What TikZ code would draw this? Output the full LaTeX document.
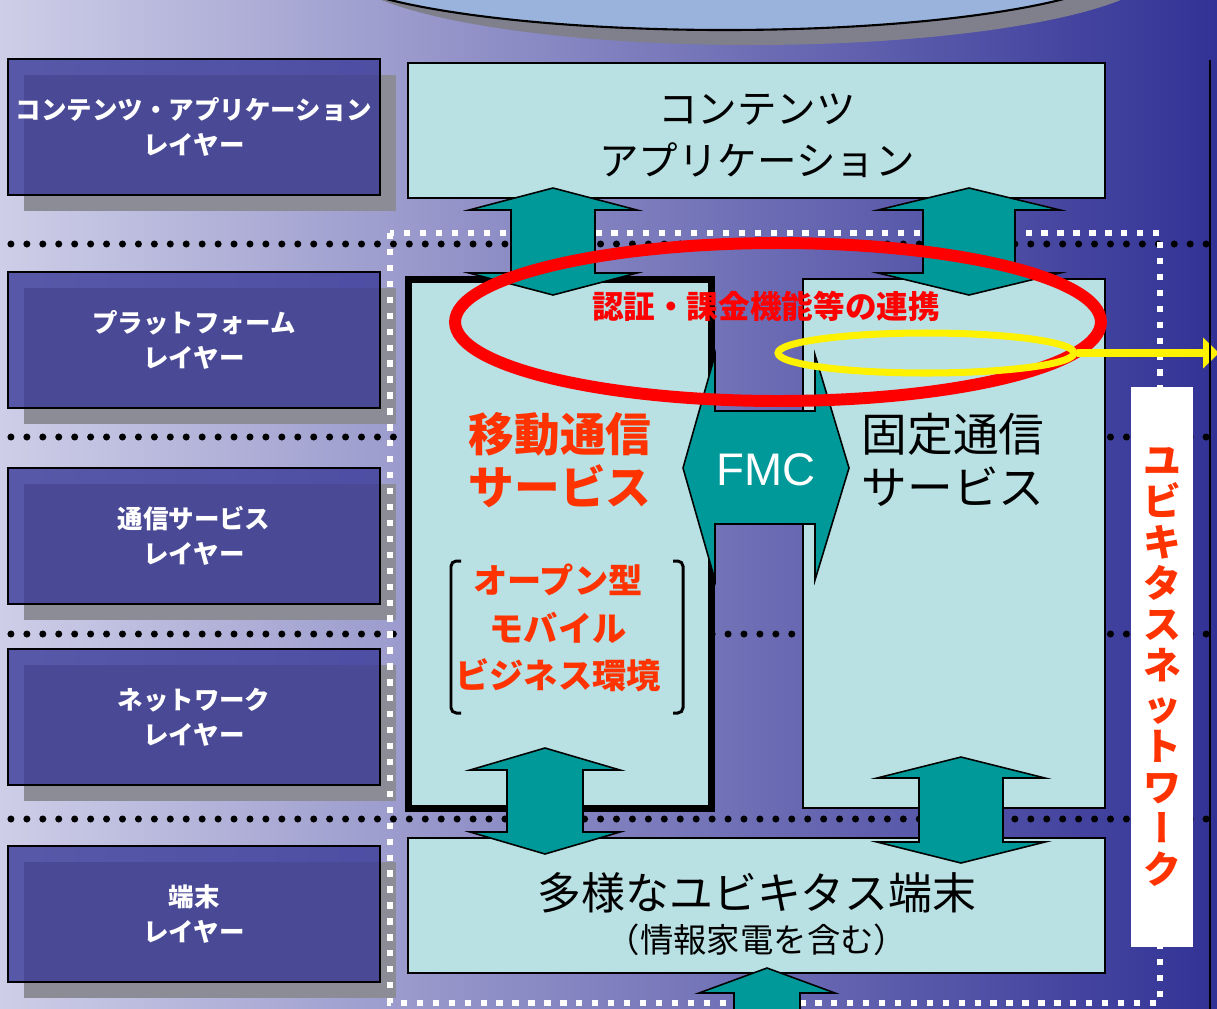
\documentclass[tikz,border=0pt]{standalone}
\usepackage{fontspec}
\setmainfont{Noto Sans CJK JP}
\newfontfamily\vertfont{Noto Sans CJK JP}[RawFeature=+vert]
\newfontfamily\latinfont{Liberation Sans}
\usetikzlibrary{shapes.geometric, arrows.meta, positioning}

\definecolor{bgleft}{RGB}{206,206,232}
\definecolor{bgmid}{RGB}{150,150,198}
\definecolor{bgright}{RGB}{50,50,150}
\definecolor{layerblue}{RGB}{54,54,151}
\definecolor{shadowgray}{RGB}{140,140,150}
\definecolor{paleblue}{RGB}{185,224,227}
\definecolor{fmcteal}{RGB}{0,153,153}
\definecolor{hotred}{RGB}{255,51,0}
\definecolor{capblue}{RGB}{153,179,221}
\definecolor{capshadow}{RGB}{128,128,140}

\tikzset{
  layer/.style={rectangle, fill=layerblue, fill opacity=0.77, text opacity=1,
                draw=black, draw opacity=1, line width=0.9pt, text=white,
                minimum width=7.44cm, minimum height=2.72cm, inner sep=0pt,
                align=center, font=\fontsize{14.5}{20}\selectfont\bfseries},
  svcbox/.style={rectangle, draw=black, line width=0.9pt, fill=paleblue, inner sep=0pt},
  blockarrow/.style={draw=black, line width=0.9pt, fill=fmcteal},
  dotline/.style={black, line width=4pt, line cap=round, dash pattern=on 0pt off 9.07pt},
  whitedash/.style={white, line width=3.4pt, dash pattern=on 3.6pt off 5.47pt},
  bigtext/.style={align=center, font=\fontsize{22.5}{29.5}\selectfont},
  redtext/.style={align=center, text=hotred, font=\fontsize{26}{30.5}\selectfont\bfseries},
  fixtext/.style={align=center, font=\fontsize{26}{30.5}\selectfont},
  opentext/.style={align=center, text=hotred, font=\fontsize{19.5}{27}\selectfont\bfseries},
}

\begin{document}
\begin{tikzpicture}[x=0.02cm, y=-0.02cm]
  \useasboundingbox (0,0) rectangle (1217,1008);
  \clip (0,0) rectangle (1217,1008);
  \shade[left color=bgleft, middle color=bgmid, right color=bgright] (0,0) rectangle (1217,1008);

  % title cap, cut by the top edge
  \fill[capshadow] (751,-35) ellipse [x radius=411, y radius=80];
  \draw[line width=1.2pt, fill=capblue] (725,-40) ellipse [x radius=408, y radius=70];

  % layer borders
  \foreach \y in {244,437,634,819}
    \draw[dotline] (-5,\y) -- (1222,\y);

  % layer names on the left
  \foreach \n/\y/\txt in {lapp/127/{コンテンツ・アプリケーション\\レイヤー},
                          lplat/340/{プラットフォーム\\レイヤー},
                          lsvc/536/{通信サービス\\レイヤー},
                          lnet/717/{ネットワーク\\レイヤー},
                          lterm/914/{端末\\レイヤー}} {
    \fill[shadowgray] (24,\y-52) rectangle (396,\y+84);
    \node[layer] (\n) at (194,\y) {\txt};
  }

  \draw[whitedash] (390,233) rectangle (1160,1003);

  % service blocks
  \node[svcbox, minimum width=13.94cm, minimum height=2.7cm] (contents) at (756.5,130.5) {};
  \node[svcbox, line width=4pt, minimum width=6.06cm, minimum height=10.58cm] (mobile) at (560,544) {};
  \node[svcbox, minimum width=6.04cm, minimum height=10.58cm] (fixed) at (954,543.5) {};
  \node[svcbox, minimum width=13.94cm, minimum height=2.7cm] (terminal) at (756.5,905.5) {};

  \node[fill=white, minimum width=1.24cm, minimum height=11.2cm, inner sep=0pt] (ubiqbox) at (1162,667) {};

  % up/down block arrows
  \foreach \cx/\yt/\yb/\sw/\hw/\hl in {553/188/295/42/84/22, 969/188/295/46/91/22,
                                       545/748/854/38/75/22, 961/757/863/42/84/21,
                                       767/968/1100/33/68/25}
    \draw[blockarrow] (\cx,\yt) -- (\cx+\hw,\yt+\hl) -- (\cx+\sw,\yt+\hl) -- (\cx+\sw,\yb-\hl)
      -- (\cx+\hw,\yb-\hl) -- (\cx,\yb) -- (\cx-\hw,\yb-\hl) -- (\cx-\sw,\yb-\hl)
      -- (\cx-\sw,\yt+\hl) -- (\cx-\hw,\yt+\hl) -- cycle;

  % FMC arrow
  \draw[blockarrow] (683,468) -- (715,355) -- (715,411) -- (815,411) -- (815,355) -- (849,468)
    -- (815,580) -- (815,524) -- (715,524) -- (715,580) -- cycle;
  \node[text=white, font=\fontsize{26}{30}\latinfont] (fmclabel) at (766,470) {FMC};

  % rings
  \node[ellipse, draw=red, line width=6.8pt, minimum width=12.92cm, minimum height=3.16cm,
        inner sep=0pt] (authring) at (778,322) {};
  \node[ellipse, draw=yellow, line width=4pt, minimum width=5.92cm, minimum height=0.8cm,
        inner sep=0pt] (yellowring) at (926,353) {};
  \coordinate (netout) at (1219,353);
  \draw[yellow, line width=4pt, -{Triangle[length=9pt, width=17pt]}] (yellowring.east) -- (netout);

  % texts
  \node[bigtext] (contentstext) at (757,136) {コンテンツ\\アプリケーション};
  \node[text=red, font=\fontsize{18}{20}\selectfont\bfseries] (authtext) at (766,306) {認証・課金機能等の連携};
  \node[redtext] (mobiletext) at (560,460) {移動通信\\サービス};
  \node[fixtext] (fixedtext) at (953,460) {固定通信\\サービス};
  \node[opentext] (opentext) at (558,628) {オープン型\\モバイル\\ビジネス環境};
  \draw[line width=1.7pt, rounded corners=3pt] (461,561) -- (451,561) -- (451,713) -- (461,713);
  \draw[line width=1.7pt, rounded corners=3pt] (673,561) -- (683,561) -- (683,713) -- (673,713);
  \node[font=\fontsize{25}{27}\selectfont] (termtext) at (757,893) {多様なユビキタス端末};
  \node[font=\fontsize{19}{21}\selectfont] (termnote) at (757,940) {（情報家電を含む）};
  \node[align=center, text=hotred, font=\fontsize{21.5}{23.3}\selectfont\bfseries] (ubiqtext) at (1162,667)
    {ユ\\ビ\\キ\\タ\\ス\\ネ\\ッ\\ト\\ワ\\{\vertfont ー}\\ク};

  \draw[line width=1pt] (1210,60) -- (1210,1010);
\end{tikzpicture}
\end{document}
